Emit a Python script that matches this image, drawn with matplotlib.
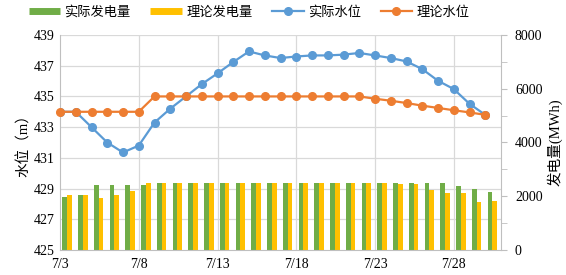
import matplotlib
matplotlib.use("Agg")
import matplotlib.pyplot as plt
from matplotlib.lines import Line2D
import numpy as np

plt.rcParams['font.family'] = ['Liberation Serif', 'Noto Sans CJK SC']

dates = ['7/3', '7/4', '7/5', '7/6', '7/7', '7/8', '7/9', '7/10', '7/11', '7/12',
         '7/13', '7/14', '7/15', '7/16', '7/17', '7/18', '7/19', '7/20', '7/21', '7/22',
         '7/23', '7/24', '7/25', '7/26', '7/27', '7/28', '7/29', '7/30']
actual_power = [1963, 2060, 2433, 2433, 2433, 2433, 2484, 2484, 2484, 2484,
                2484, 2484, 2484, 2484, 2484, 2484, 2484, 2484, 2484, 2484,
                2484, 2484, 2484, 2484, 2484, 2385, 2260, 2174]
theory_power = [2038, 2060, 1937, 2038, 2198, 2484, 2484, 2484, 2484, 2484,
                2484, 2484, 2484, 2484, 2484, 2484, 2484, 2484, 2484, 2484,
                2484, 2460, 2460, 2236, 2112, 2112, 1800, 1826]
actual_level = [434.0, 434.0, 433.0, 432.0, 431.35, 431.8, 433.3, 434.2, 435.0, 435.8,
                436.5, 437.24, 437.93, 437.67, 437.5, 437.6, 437.67, 437.67, 437.72, 437.83,
                437.67, 437.5, 437.28, 436.78, 436.02, 435.48, 434.52, 433.8]
theory_level = [434.0, 434.0, 434.0, 434.0, 434.0, 434.0, 435.0, 435.0, 435.0, 435.0,
                435.0, 435.0, 435.0, 435.0, 435.0, 435.0, 435.0, 435.0, 435.0, 435.0,
                434.85, 434.72, 434.57, 434.4, 434.25, 434.1, 433.96, 433.8]
level_ticks = [425, 427, 429, 431, 433, 435, 437, 439]
power_ticks = [0, 2000, 4000, 6000, 8000]
xtick_idx = [0, 5, 10, 15, 20, 25]

GREEN = '#70AD47'
YELLOW = '#FFC000'
BLUE = '#5B9BD5'
ORANGE = '#ED7D31'
GRID = '#D9D9D9'
AXC = '#BFBFBF'

fig = plt.figure(figsize=(5.66, 2.75), dpi=100)
ax1 = fig.add_axes([60/566, 1-250/275, (501-60)/566, (250-35)/275])
ax2 = ax1.twinx()
ax2.set_zorder(0)
ax1.set_zorder(1)
ax1.patch.set_visible(False)

x = np.arange(len(dates))
n = len(dates)

# grid on bar axes (behind bars), aligned to left axis ticks
for t in level_ticks[1:-1]:
    ax2.axhline((t - level_ticks[0]) / (level_ticks[-1] - level_ticks[0]) * power_ticks[-1],
                color=GRID, lw=0.9, zorder=0)
ax2.axhline(power_ticks[-1], color=GRID, lw=0.9, zorder=0)
for i in xtick_idx[1:]:
    ax2.axvline(i, color=GRID, lw=0.9, zorder=0)

w = 0.3
ax2.bar(x + 0.15, actual_power, width=w, align='edge', color=GREEN, zorder=2)
ax2.bar(x + 0.45, theory_power, width=w, align='edge', color=YELLOW, zorder=2)

ax1.plot(x, actual_level, color=BLUE, lw=1.6, marker='o', ms=5.5, zorder=3)
ax1.plot(x, theory_level, color=ORANGE, lw=1.6, marker='o', ms=5.5, zorder=4, clip_on=False)

ax1.set_xlim(0, n)
ax1.set_ylim(level_ticks[0], level_ticks[-1])
ax2.set_ylim(power_ticks[0], power_ticks[-1])
ax1.set_yticks(level_ticks)
ax2.set_yticks(power_ticks)
ax2.set_yticks(np.arange(1000, 8000, 2000), minor=True)
ax1.set_xticks(xtick_idx)
ax1.set_xticklabels([dates[i] for i in xtick_idx])

for ax in (ax1, ax2):
    for s in ax.spines.values():
        s.set_visible(False)
ax1.spines['left'].set_visible(True)
ax1.spines['left'].set_color(AXC)
ax1.spines['bottom'].set_visible(True)
ax1.spines['bottom'].set_color(AXC)
ax2.spines['right'].set_visible(True)
ax2.spines['right'].set_color(AXC)

ax1.tick_params(axis='y', length=0, labelsize=10, pad=4)
ax1.tick_params(axis='x', length=0, labelsize=10, pad=6)
ax2.tick_params(axis='y', which='both', length=4, color=AXC, direction='out', labelsize=10, pad=6)

ax1.set_ylabel('水位（m）', fontsize=10.5, labelpad=2)
ax2.set_ylabel('发电量(MWh)', fontsize=10.5, labelpad=3)

handles = [Line2D([], [], color=GREEN, lw=5, solid_capstyle='butt'),
           Line2D([], [], color=YELLOW, lw=5, solid_capstyle='butt'),
           Line2D([], [], color=BLUE, lw=1.6, marker='o', ms=5.5),
           Line2D([], [], color=ORANGE, lw=1.6, marker='o', ms=5.5)]
labels = ['实际发电量', '理论发电量', '实际水位', '理论水位']
fig.legend(handles, labels, loc='center', bbox_to_anchor=(249/566, 1-12/275), ncol=4,
           frameon=False, handlelength=2.4, columnspacing=1.5, handletextpad=0.3,
           prop={'family': ['Noto Sans CJK SC'], 'size': 9.5})

fig.savefig('out.png', dpi=100)
